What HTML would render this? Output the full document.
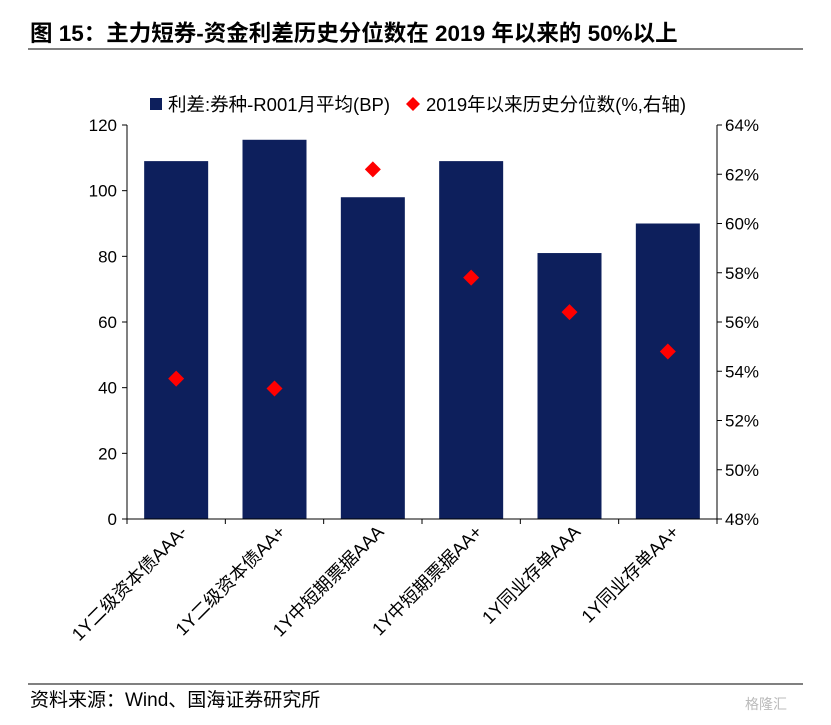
<!DOCTYPE html>
<html><head><meta charset="utf-8"><style>
body{margin:0;background:#fff;width:831px;height:720px;overflow:hidden;font-family:"Liberation Sans","Noto Sans CJK SC",sans-serif;}
</style></head><body>
<svg width="831" height="720" xmlns="http://www.w3.org/2000/svg">
<text x="30" y="41" font-size="22.5" font-weight="bold" fill="#000" font-family="Liberation Sans,Noto Sans CJK SC,sans-serif">图 15：主力短券-资金利差历史分位数在 2019 年以来的 50%以上</text>
<line x1="28" y1="49" x2="803" y2="49" stroke="#000" stroke-width="1"/>
<g id="plot"></g>
<line x1="28" y1="684" x2="803" y2="684" stroke="#000" stroke-width="1"/>
<text x="30" y="706" font-size="19" fill="#000" font-family="Liberation Sans,Noto Sans CJK SC,sans-serif">资料来源：Wind、国海证券研究所</text>
<text x="745" y="709" font-size="14" fill="#bbb" font-family="Liberation Sans,Noto Sans CJK SC,sans-serif">格隆汇</text>
</svg>
<script>
const categories=["1Y二级资本债AAA-","1Y二级资本债AA+","1Y中短期票据AAA","1Y中短期票据AA+","1Y同业存单AAA","1Y同业存单AA+"];
const spreadValues=[109,115.5,98,109,81,90];
const percentileValues=[53.7,53.3,62.2,57.8,56.4,54.8];
const leftTicks=[0,20,40,60,80,100,120];
const rightTicks=[48,50,52,54,56,58,60,62,64];
const NS="http://www.w3.org/2000/svg";
const g=document.getElementById('plot');
const L=127,R=717,T=125,B=519;
const yL=v=>B-(v-0)/(120-0)*(B-T);
const yR=v=>B-(v-48)/(64-48)*(B-T);
const bw=(R-L)/categories.length;
const xC=i=>L+bw*(i+0.5);
function mk(tag,attrs,txt){const e=document.createElementNS(NS,tag);for(const k in attrs)e.setAttribute(k,attrs[k]);if(txt!==undefined)e.textContent=txt;g.appendChild(e);return e;}
const F="Liberation Sans,Noto Sans CJK SC,sans-serif";
spreadValues.forEach((v,i)=>{const e=mk('rect',{x:xC(i)-32,y:yL(v),width:64,height:B-yL(v),fill:'#0d1f5c'});

});
percentileValues.forEach((v,i)=>{const x=xC(i),y=yR(v);const e=mk('polygon',{points:`${x},${y-8} ${x+8},${y} ${x},${y+8} ${x-8},${y}`,fill:'#ff0000'});

});
let a=mk('line',{x1:L,y1:T,x2:L,y2:B,stroke:'#000'});
a=mk('line',{x1:R,y1:T,x2:R,y2:B,stroke:'#000'});
a=mk('line',{x1:L,y1:B,x2:R,y2:B,stroke:'#000'});
leftTicks.forEach(v=>{mk('line',{x1:L-5,y1:yL(v),x2:L,y2:yL(v),stroke:'#000'});const t=mk('text',{x:L-10,y:yL(v)+6,'font-size':17,'text-anchor':'end','font-family':F},v);

});
rightTicks.forEach(v=>{mk('line',{x1:R,y1:yR(v),x2:R+5,y2:yR(v),stroke:'#000'});const t=mk('text',{x:R+8,y:yR(v)+6,'font-size':17,'font-family':F},v+'%');

});
for(let i=0;i<=categories.length;i++)mk('line',{x1:L+bw*i,y1:B,x2:L+bw*i,y2:B+5,stroke:'#000'});
categories.forEach((c,i)=>{const x=xC(i)+12,y=B+14;const t=mk('text',{x:x,y:y,'font-size':18,'text-anchor':'end','font-family':F,transform:`rotate(-45 ${x} ${y})`},c);

});
let e=mk('rect',{x:150,y:98,width:12,height:12,fill:'#0d1f5c'});
e=mk('text',{x:168,y:111,'font-size':18.5,'font-family':F},'利差:券种-R001月平均(BP)');
e=mk('polygon',{points:'413,97 420,104 413,111 406,104',fill:'#ff0000'});
e=mk('text',{x:426,y:111,'font-size':18.5,'font-family':F},'2019年以来历史分位数(%,右轴)');
</script>
</body></html>
